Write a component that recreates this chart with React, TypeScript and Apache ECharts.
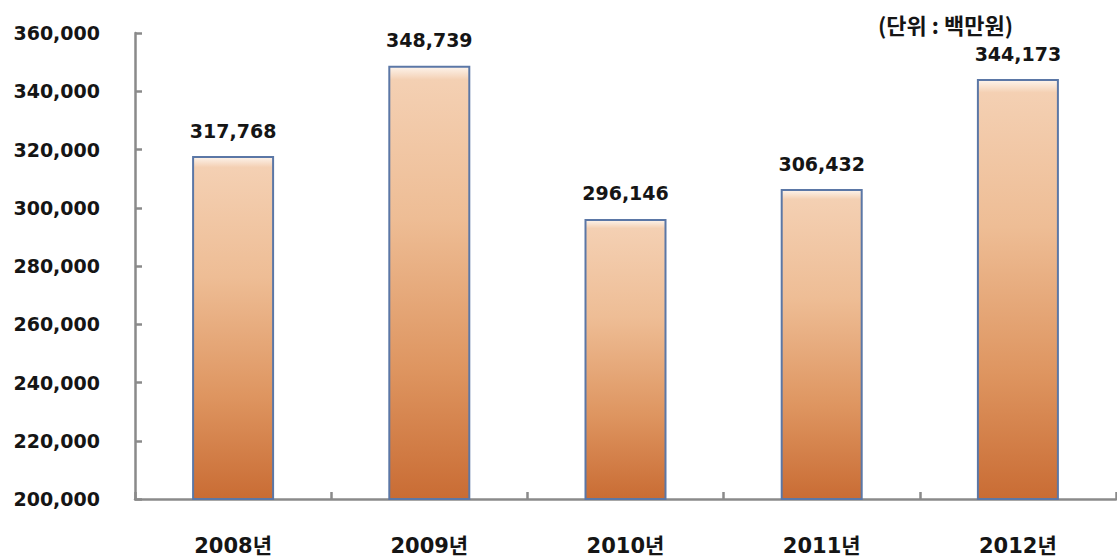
import React, { useEffect, useRef } from "react";
import * as echarts from "echarts";

const categories = ["2008년", "2009년", "2010년", "2011년", "2012년"];
const values = [317768, 348739, 296146, 306432, 344173];
const yMin = 200000;
const yMax = 360000;
const yInterval = 20000;
const unitLabel = "(단위 : 백만원)";

const FONT = "'DejaVu Sans', 'Noto Sans CJK KR', sans-serif";
const fmt = (v: number) => v.toLocaleString("en-US");

export default function App() {
  const ref = useRef<HTMLDivElement>(null);
  useEffect(() => {
    if (!ref.current) return;
    const chart = echarts.init(ref.current, undefined, { renderer: "svg" });
    const axisColor = "#8a8a8a";
    chart.setOption({
      animation: false,
      backgroundColor: "#ffffff",
      grid: { left: 135, right: 1, top: 33, bottom: 59, containLabel: false },
      xAxis: {
        type: "category",
        data: categories,
        axisLine: { show: true, lineStyle: { color: axisColor, width: 2.5 } },
        axisTick: { show: true, inside: true, length: 7, interval: 0, lineStyle: { color: axisColor, width: 2.5 } },
        axisLabel: { fontSize: 21, fontWeight: "bold", color: "#151515", margin: 36, fontFamily: FONT },
        splitLine: { show: false },
      },
      yAxis: {
        type: "value",
        min: yMin,
        max: yMax,
        interval: yInterval,
        axisLine: { show: true, lineStyle: { color: axisColor, width: 2.5 } },
        axisTick: { show: true, inside: true, length: 7, lineStyle: { color: axisColor, width: 2.5 } },
        axisLabel: { fontSize: 19, fontWeight: "bold", color: "#151515", margin: 35, fontFamily: FONT, formatter: (v: number) => fmt(v) },
        splitLine: { show: false },
      },
      series: [
        {
          type: "bar",
          data: values,
          barWidth: 82,
          itemStyle: {
            color: new echarts.graphic.LinearGradient(0, 0, 0, 1, [
              { offset: 0, color: "#fdf4ec" },
              { offset: 0.03, color: "#f4d0b3" },
              { offset: 0.35, color: "#eebd95" },
              { offset: 0.7, color: "#de9560" },
              { offset: 1, color: "#c96c34" },
            ]),
            borderColor: "#5b77a6",
            borderWidth: 2,
          },
          label: {
            show: true,
            position: "top",
            distance: 16,
            fontSize: 19,
            fontWeight: "bold",
            color: "#151515",
            fontFamily: FONT,
            formatter: (p: any) => fmt(p.value),
          },
        },
      ],
      graphic: [
        {
          type: "text",
          left: 878,
          top: 13,
          style: {
            text: unitLabel,
            font: "bold 22px 'Noto Sans CJK KR', sans-serif",
            fill: "#151515",
          },
        },
      ],
    });
    return () => chart.dispose();
  }, []);
  return (
    <div
      ref={ref}
      style={{ position: "fixed", left: 0, top: 0, width: 1117, height: 558, background: "#fff" }}
    />
  );
}
